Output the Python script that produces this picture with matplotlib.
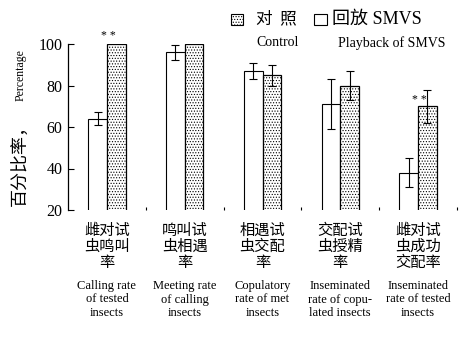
import matplotlib
matplotlib.use("Agg")
import matplotlib.pyplot as plt
import numpy as np
from matplotlib.patches import Rectangle
from matplotlib.transforms import blended_transform_factory

plt.rcParams['hatch.color'] = '#555555'
plt.rcParams['hatch.linewidth'] = 0.5

# ---- data ----
cat_cn = [["雌对试", "虫鸣叫", "率"],
          ["鸣叫试", "虫相遇", "率"],
          ["相遇试", "虫交配", "率"],
          ["交配试", "虫授精", "率"],
          ["雌对试", "虫成功", "交配率"]]
cat_en = [["Calling rate", "of tested", "insects"],
          ["Meeting rate", "of calling", "insects"],
          ["Copulatory", "rate of met", "insects"],
          ["Inseminated", "rate of copu-", "lated insects"],
          ["Inseminated", "rate of tested", "insects"]]
control_vals = [100, 100, 85, 80, 70]     # stippled bars (对照 Control)
control_err = [0, 0, 5, 7, 8]
playback_vals = [64, 96, 87, 71, 38]      # open bars (回放 SMVS)
playback_err = [3, 3.5, 4, 12, 7]
yticks = [20, 40, 60, 80, 100]
sig_marks = {0: "* *", 4: "* *"}

W, H = 463, 340
fig = plt.figure(figsize=(W / 100, H / 100), dpi=100)
ax = fig.add_axes([68 / W, 1 - 210 / H, (457 - 68) / W, (210 - 44) / H])

x = np.arange(len(control_vals))
w = 0.24
ax.bar(x - w / 2, playback_vals, w, color='white', edgecolor='black', linewidth=0.8)
ax.bar(x + w / 2, control_vals, w, color='white', edgecolor='black', linewidth=0.9,
       hatch='......')

pe = np.array(playback_err); pv = np.array(playback_vals)
m = pe > 0
ax.errorbar((x - w / 2)[m], pv[m], yerr=pe[m], fmt='none', ecolor='black',
            elinewidth=0.8, capsize=3, capthick=0.8)
ce = np.array(control_err); cv = np.array(control_vals)
m = ce > 0
ax.errorbar((x + w / 2)[m], cv[m], yerr=ce[m], fmt='none', ecolor='black',
            elinewidth=0.8, capsize=3, capthick=0.8)

# significance marks
ax.text(x[0] + w / 2 - 0.1, control_vals[0] + 1.2, sig_marks[0], ha='center', va='bottom',
        fontsize=8.5, family='Liberation Serif', clip_on=False)
ax.text(x[4] + 0.02, control_vals[4] + 3, sig_marks[4], ha='center', va='center',
        fontsize=8.5, family='Liberation Serif')

ax.set_xlim(-0.5, 4.5)
ax.set_ylim(20, 100)
ax.set_yticks(yticks)
ax.set_yticklabels([str(v) for v in yticks], family='Liberation Serif', fontsize=11.5)
ax.tick_params(axis='y', direction='in', length=4, width=0.8, pad=4)
ax.set_xticks([])
ax.set_xticks(np.arange(-0.5, 5, 1.0)[1:], minor=True)
ax.tick_params(axis='x', which='minor', direction='in', length=2, width=0.8)
for s in ['top', 'right', 'bottom']:
    ax.spines[s].set_visible(False)
ax.spines['left'].set_linewidth(0.9)

# category labels
tr = blended_transform_factory(ax.transData, ax.transAxes)
for i in range(len(cat_cn)):
    for j, line in enumerate(cat_cn[i]):
        ax.annotate(line, xy=(x[i], 0), xycoords=tr, xytext=(0, -20 - 16 * j),
                    textcoords='offset pixels', ha='center', va='center',
                    fontsize=11, family='Noto Sans CJK SC', annotation_clip=False)
    for j, line in enumerate(cat_en[i]):
        ax.annotate(line, xy=(x[i], 0), xycoords=tr, xytext=(0, -76 - 13.5 * j),
                    textcoords='offset pixels', ha='center', va='center',
                    fontsize=9, family='Liberation Serif', annotation_clip=False)

# y label
fig.text(21 / W, 1 - 161 / H, "百分比率，", rotation=90, ha='center', va='center',
         fontsize=13, family='Noto Sans CJK SC')
fig.text(21 / W, 1 - 75 / H, "Percentage", rotation=90, ha='center', va='center',
         fontsize=8.5, family='Liberation Serif')

# legend
fig.add_artist(Rectangle((231 / W, 1 - 25 / H), 12 / W, 11 / H, transform=fig.transFigure,
                         facecolor='white', edgecolor='black', linewidth=0.8, hatch='......'))
fig.text(256 / W, 1 - 19 / H, "对  照", ha='left', va='center', fontsize=12,
         family='Noto Sans CJK SC')
fig.add_artist(Rectangle((314 / W, 1 - 25 / H), 13 / W, 11 / H, transform=fig.transFigure,
                         facecolor='white', edgecolor='black', linewidth=0.8))
fig.text(332 / W, 1 - 19 / H, "回放 SMVS", ha='left', va='center', fontsize=13,
         family=['Liberation Serif', 'Noto Sans CJK SC'])
fig.text(256 / W, 1 - 43 / H, "Control", ha='left', va='center', fontsize=10,
         family='Liberation Serif')
fig.text(338 / W, 1 - 43 / H, "Playback of SMVS", ha='left', va='center', fontsize=10,
         family='Liberation Serif')

fig.savefig("out.png", dpi=100)
